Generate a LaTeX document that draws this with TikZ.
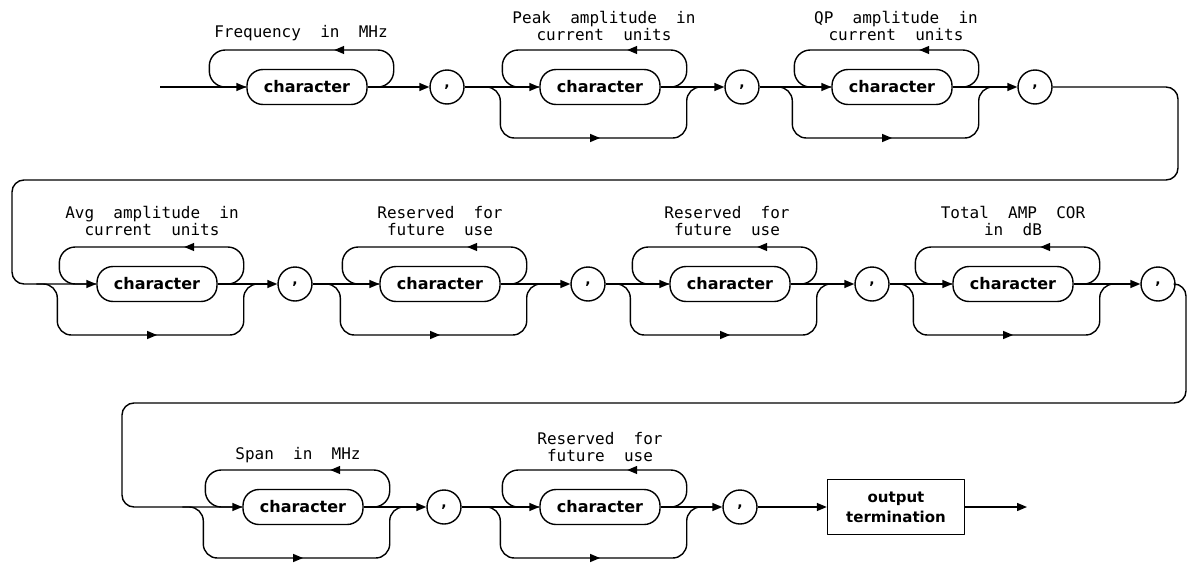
\documentclass[tikz,border=0pt]{standalone}
\usepackage{fontspec}
\newfontfamily\notefont{DejaVu Sans Mono}
\newfontfamily\boxfont{DejaVu Sans}
\usetikzlibrary{arrows.meta,calc,decorations.markings}

\tikzset{
    rail/.style={line width=1.4pt, line join=round},
    railarrow/.style={rail, -{Triangle[length=10pt,width=8pt]}},
    charbox/.style={draw, rail, rounded corners=16pt, minimum width=120pt, minimum height=35pt,
        inner sep=0pt, font=\boxfont\bfseries\fontsize{16}{18}\selectfont},
    termbox/.style={draw, rail, minimum width=137pt, minimum height=55pt, inner sep=0pt,
        align=center, font=\boxfont\bfseries\fontsize{15}{20}\selectfont},
    comma/.style={draw, rail, circle, minimum size=34pt, inner sep=0pt,
        font=\boxfont\bfseries\fontsize{14}{16}\selectfont},
    note/.style={align=center, inner sep=0pt, font=\notefont\fontsize{16}{17}\selectfont},
    back/.style={rail, rounded corners=16pt, postaction={decorate},
        decoration={markings, mark=at position 0.37 with {\arrow{Triangle[length=10pt,width=8pt]}}}},
    skip/.style={rail, rounded corners=14pt, postaction={decorate},
        decoration={markings, mark=at position 0.53 with {\arrow{Triangle[length=10pt,width=8pt]}}}}
}

\begin{document}
\begin{tikzpicture}[x=1pt, y=-1pt]
    \useasboundingbox (0,0) rectangle (1187,565);
    % First row
    \coordinate (in) at (160,87);
    \node[charbox] (c11) at (307,87) {character};
    \node[comma] (k11) at (447,87) {,};
    \node[charbox] (c12) at (600,87) {character};
    \node[comma] (k12) at (742,87) {,};
    \node[charbox] (c13) at (892,87) {character};
    \node[comma] (k13) at (1035,87) {,};
    \node[note] at (301,33) {Frequency~~in~~MHz};
    \node[note] at (604,26) {Peak~~amplitude~~in\\current~~units};
    \node[note] at (896,26) {QP~~amplitude~~in\\current~~units};
    % Second row
    \node[charbox] (c21) at (157,284) {character};
    \node[comma] (k21) at (295,284) {,};
    \node[charbox] (c22) at (440,284) {character};
    \node[comma] (k22) at (588,284) {,};
    \node[charbox] (c23) at (730,284) {character};
    \node[comma] (k23) at (872,284) {,};
    \node[charbox] (c24) at (1013,284) {character};
    \node[comma] (k24) at (1158,284) {,};
    \node[note] at (152,221) {Avg~~amplitude~~in\\current~~units};
    \node[note] at (440,221) {Reserved~~for\\future~~use};
    \node[note] at (727,221) {Reserved~~for\\future~~use};
    \node[note] at (1013,221) {Total~~AMP~~COR\\in~~dB};
    % Third row
    \node[charbox] (c31) at (303,507) {character};
    \node[comma] (k31) at (444,507) {,};
    \node[charbox] (c32) at (600,507) {character};
    \node[comma] (k32) at (740,507) {,};
    \node[termbox] (out) at (896,507) {output\\termination};
    \coordinate (end) at (1027,507);
    \node[note] at (298,455) {Span~~in~~MHz};
    \node[note] at (600,447) {Reserved~~for\\future~~use};

    % Main line
    \draw[railarrow] (in) -- (c11.west);
    \draw[railarrow] (c11) -- (k11);
    \draw[railarrow] (k11) -- (c12);
    \draw[railarrow] (c12) -- (k12);
    \draw[railarrow] (k12) -- (c13);
    \draw[railarrow] (c13) -- (k13);
    \draw[railarrow, rounded corners=12pt] (k13) -- (1178,87) |- (12,180) |- (c21.west);
    \draw[railarrow] (c21) -- (k21);
    \draw[railarrow] (k21) -- (c22);
    \draw[railarrow] (c22) -- (k22);
    \draw[railarrow] (k22) -- (c23);
    \draw[railarrow] (c23) -- (k23);
    \draw[railarrow] (k23) -- (c24);
    \draw[railarrow] (c24) -- (k24);
    \draw[railarrow, rounded corners=12pt] (k24) -- (1186,284) |- (122,403) |- (c31.west);
    \draw[railarrow] (c31) -- (k31);
    \draw[railarrow] (k31) -- (c32);
    \draw[railarrow] (c32) -- (k32);
    \draw[railarrow] (k32) -- (out);
    \draw[railarrow] (out) -- (end);

    % Repeat loops
    \foreach \c in {c11,c12,c13,c21,c22,c23,c24,c31,c32}
        \draw[back] (\c.east) -| ($(\c.east)+(26,-37)$) -| ($(\c.west)+(-37,0)$) -- (\c.west);
    % Bypass paths
    \foreach \c in {c12,c13,c21,c22,c23,c24,c31,c32}
        \draw[skip] ($(\c.west)+(-60,0)$) -| ($(\c.west)+(-39,51)$) -| ($(\c.east)+(26,0)$) -- ++(16,0);
\end{tikzpicture}
\end{document}
